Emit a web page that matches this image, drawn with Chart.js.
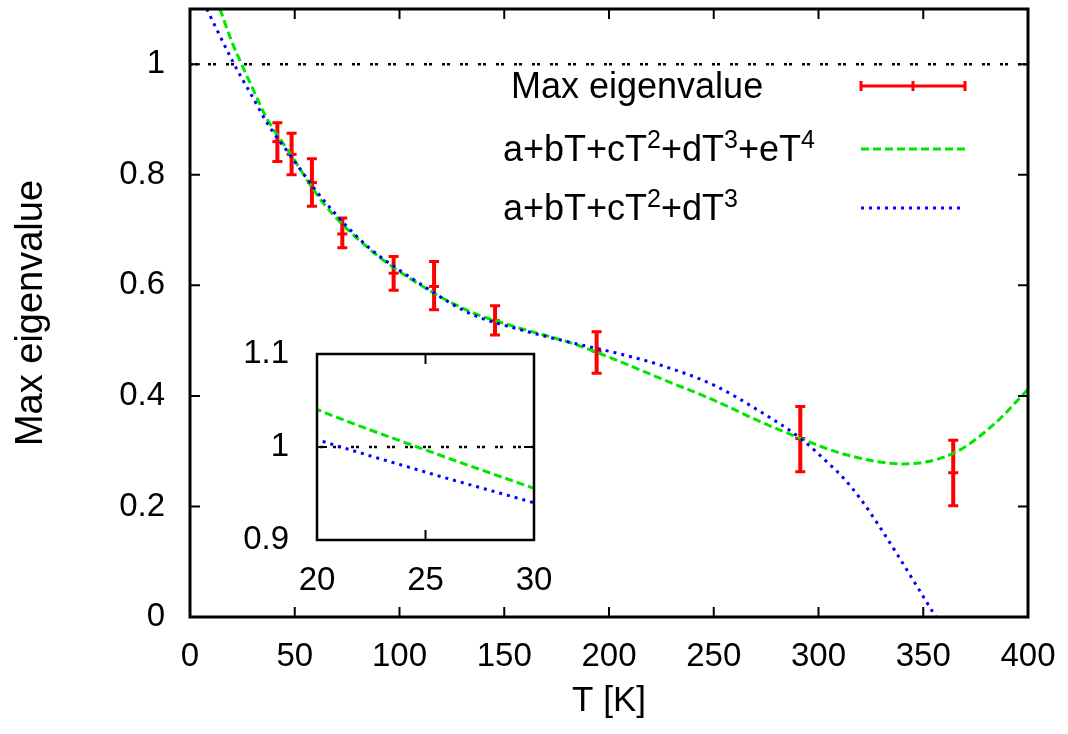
<!DOCTYPE html>
<html>
<head>
<meta charset="utf-8">
<script src="https://cdn.jsdelivr.net/npm/chart.js@4.4.0/dist/chart.umd.min.js"></script>
<style>
  html, body { margin: 0; padding: 0; background: #fff; }
  #wrap { position: relative; width: 1068px; height: 734px; }
  #main { position: absolute; left: 0; top: 0; width: 1068px; height: 734px; }
  #inset { position: absolute; left: 230px; top: 330px; width: 340px; height: 270px; }
</style>
</head>
<body>
<div id="wrap">
  <canvas id="main" width="1068" height="734"></canvas>
  <canvas id="inset" width="340" height="270"></canvas>
</div>
<script>
// tick values
const xTickValues = [0, 50, 100, 150, 200, 250, 300, 350, 400];
const yTickValues = [0, 0.2, 0.4, 0.6, 0.8, 1];
const insetXTicks = [20, 25, 30];
const insetYTicks = [0.9, 1, 1.1];

// measured points with error bars
const errT = [41.7, 48.5, 58.2, 72.7, 97.2, 116.5, 145.6, 194.1, 291.3, 364.3];
const errMid = [0.860, 0.837, 0.786, 0.693, 0.622, 0.598, 0.536, 0.481, 0.323, 0.261];
const errLow = [0.824, 0.800, 0.743, 0.668, 0.591, 0.556, 0.510, 0.441, 0.263, 0.2015];
const errHigh = [0.894, 0.875, 0.829, 0.722, 0.652, 0.643, 0.563, 0.516, 0.381, 0.320];

// fit a+bT+cT^2+dT^3+eT^4
const quarticT = [14.3, 20, 25, 30, 36.6, 47.7, 63.6, 84.3, 109.8, 133.7, 157.5, 181.4, 205.3, 224.3, 249.8, 272.2, 291.5, 311.8, 340.5, 364.3, 383.4, 400];
const quarticV = [1.1, 1.0405, 0.9968, 0.9556, 0.9026, 0.839, 0.749, 0.670, 0.601, 0.5526, 0.5225, 0.4965, 0.462, 0.432, 0.3927, 0.3535, 0.323, 0.295, 0.277, 0.296, 0.3475, 0.4118];

// fit a+bT+cT^2+dT^3
const cubicT = [8.0, 20, 25, 30, 36.6, 47.7, 63.6, 84.3, 109.8, 133.7, 157.5, 181.4, 205.3, 224.3, 249.8, 272.2, 291.5, 303.9, 311.8, 320, 329.4, 337.3, 345.3, 356];
const cubicV = [1.1, 1.008, 0.973, 0.94, 0.895, 0.836, 0.755, 0.672, 0.603, 0.549, 0.52, 0.497, 0.476, 0.456, 0.420, 0.3716, 0.323, 0.281, 0.252, 0.214, 0.162, 0.115, 0.066, 0.0];

// reference line at 1
const unityT = [0, 400];
const unityV = [1, 1];

const FONT = "'Liberation Sans', Arial, sans-serif";
const RED = "#ff0000";
const GREEN = "#00e600";
const BLUE = "#0000ff";

function pts(xs, ys) {
  return xs.map((x, i) => ({ x: x, y: ys[i] }));
}

function curveSets() {
  return [
    {
      label: "unity", data: pts(unityT, unityV), showLine: true,
      borderColor: "#000", borderWidth: 2.5, borderDash: [3, 2, 3, 10],
      pointRadius: 0, order: 3,
    },
    {
      label: "quartic", data: pts(quarticT, quarticV), showLine: true,
      borderColor: GREEN, borderWidth: 3, borderDash: [8, 4],
      pointRadius: 0, cubicInterpolationMode: "monotone", order: 1,
    },
    {
      label: "cubic", data: pts(cubicT, cubicV), showLine: true,
      borderColor: BLUE, borderWidth: 3, borderDash: [3, 5],
      pointRadius: 0, cubicInterpolationMode: "monotone", order: 0,
    },
  ];
}

function fixedTicks(values) {
  return (scale) => {
    scale.ticks = values.map((v) => ({ value: v }));
  };
}

// pin the box size and drop the label overhang padding chart.js adds
function pinSize(prop, size) {
  return (s) => {
    s[prop] = size;
    s.paddingTop = 0; s.paddingBottom = 0;
    s.paddingLeft = 0; s.paddingRight = 0;
  };
}

function framePlugin(xt, yt, tickLen, lineW) {
  return {
    id: "frame",
    afterDatasetsDraw(chart) {
      const { ctx, chartArea: a, scales: { x, y } } = chart;
      ctx.save();
      ctx.strokeStyle = "#000";
      ctx.lineWidth = 2;
      ctx.setLineDash([]);
      ctx.beginPath();
      xt.forEach((v) => {
        const px = x.getPixelForValue(v);
        ctx.moveTo(px, a.bottom); ctx.lineTo(px, a.bottom - tickLen);
        ctx.moveTo(px, a.top); ctx.lineTo(px, a.top + tickLen);
      });
      yt.forEach((v) => {
        const py = y.getPixelForValue(v);
        ctx.moveTo(a.left, py); ctx.lineTo(a.left + tickLen, py);
        ctx.moveTo(a.right, py); ctx.lineTo(a.right - tickLen, py);
      });
      ctx.stroke();
      ctx.lineWidth = lineW;
      ctx.strokeRect(a.left, a.top, a.right - a.left, a.bottom - a.top);
      ctx.restore();
    },
  };
}

const errorBarPlugin = {
  id: "errorBars",
  beforeDatasetsDraw(chart) {
    const { ctx, scales: { x, y } } = chart;
    ctx.save();
    ctx.strokeStyle = RED;
    ctx.setLineDash([]);
    errT.forEach((t, i) => {
      const px = x.getPixelForValue(t);
      const top = y.getPixelForValue(errHigh[i]);
      const bot = y.getPixelForValue(errLow[i]);
      ctx.lineWidth = 4;
      ctx.beginPath();
      ctx.moveTo(px, top); ctx.lineTo(px, bot);
      ctx.stroke();
      ctx.lineWidth = 3;
      ctx.beginPath();
      ctx.moveTo(px - 5, top); ctx.lineTo(px + 5, top);
      ctx.moveTo(px - 5, bot); ctx.lineTo(px + 5, bot);
      ctx.stroke();
    });
    ctx.restore();
  },
};

// legend rows: [text, superscript?]
const legendRows = [
  { parts: [["Max eigenvalue", false]], left: 511, base: 98, kind: "err" },
  { parts: [["a+bT+cT", false], ["2", true], ["+dT", false], ["3", true], ["+eT", false], ["4", true]], left: 503, base: 161, kind: "quartic" },
  { parts: [["a+bT+cT", false], ["2", true], ["+dT", false], ["3", true]], left: 503, base: 220, kind: "cubic" },
];

const legendPlugin = {
  id: "richLegend",
  afterDraw(chart) {
    const { ctx } = chart;
    ctx.save();
    ctx.fillStyle = "#000";
    ctx.textBaseline = "alphabetic";
    ctx.textAlign = "left";
    legendRows.forEach((row) => {
      let cx = row.left;
      row.parts.forEach(([txt, sup]) => {
        ctx.font = (sup ? "25px " : "36px ") + FONT;
        ctx.fillText(txt, cx, sup ? row.base - 13 : row.base);
        cx += ctx.measureText(txt).width;
      });
      const sy = row.base - 12;
      const x0 = 861, x1 = 965;
      ctx.beginPath();
      if (row.kind === "err") {
        ctx.strokeStyle = RED;
        ctx.lineWidth = 3;
        ctx.setLineDash([]);
        ctx.moveTo(x0, sy); ctx.lineTo(x1, sy);
        ctx.moveTo(x0, sy - 5); ctx.lineTo(x0, sy + 5);
        ctx.moveTo(x1, sy - 5); ctx.lineTo(x1, sy + 5);
        ctx.moveTo((x0 + x1) / 2, sy - 5); ctx.lineTo((x0 + x1) / 2, sy + 5);
      } else if (row.kind === "quartic") {
        ctx.strokeStyle = GREEN;
        ctx.lineWidth = 3;
        ctx.setLineDash([8, 4]);
        ctx.moveTo(x0, sy); ctx.lineTo(x1, sy);
      } else {
        ctx.strokeStyle = BLUE;
        ctx.lineWidth = 3;
        ctx.setLineDash([3, 5]);
        ctx.moveTo(x0, sy); ctx.lineTo(x1, sy);
      }
      ctx.stroke();
    });
    ctx.restore();
  },
};

const tickFont = { family: FONT, size: 33 };

const mainSets = curveSets();
mainSets.push({
  label: "Max eigenvalue", data: pts(errT, errMid), showLine: false,
  pointStyle: "line", pointRadius: 5, borderColor: RED, borderWidth: 3, order: 5,
});

new Chart(document.getElementById("main"), {
  type: "scatter",
  data: { datasets: mainSets },
  options: {
    responsive: false,
    animation: false,
    layout: { padding: { top: 9, right: 40, left: 0, bottom: 0 } },
    plugins: { legend: { display: false }, tooltip: { enabled: false } },
    scales: {
      x: {
        type: "linear", min: 0, max: 400,
        afterBuildTicks: fixedTicks(xTickValues),
        afterFit: pinSize("height", 117),
        grid: { display: false, drawTicks: false },
        border: { display: false },
        ticks: { font: tickFont, color: "#000", padding: 20, maxRotation: 0, autoSkip: false },
        title: { display: true, text: "T [K]", color: "#000", font: { family: FONT, size: 35 }, padding: { top: 0, bottom: 12 } },
      },
      y: {
        type: "linear", min: 0, max: 1.1,
        afterBuildTicks: fixedTicks(yTickValues),
        afterFit: pinSize("width", 190),
        grid: { display: false, drawTicks: false },
        border: { display: false },
        ticks: { font: tickFont, color: "#000", padding: 25, autoSkip: false, callback: (v) => String(v) },
        title: { display: true, text: "Max eigenvalue", color: "#000", font: { family: FONT, size: 38 }, padding: { top: 9, bottom: 0 } },
      },
    },
  },
  plugins: [errorBarPlugin, framePlugin(xTickValues, yTickValues, 10, 3), legendPlugin],
});

new Chart(document.getElementById("inset"), {
  type: "scatter",
  data: { datasets: curveSets() },
  options: {
    responsive: false,
    animation: false,
    layout: { padding: { top: 24, right: 36, left: 0, bottom: 0 } },
    plugins: { legend: { display: false }, tooltip: { enabled: false } },
    scales: {
      x: {
        type: "linear", min: 20, max: 30,
        afterBuildTicks: fixedTicks(insetXTicks),
        afterFit: pinSize("height", 60),
        grid: { display: false, drawTicks: false },
        border: { display: false },
        ticks: { font: tickFont, color: "#000", padding: 21, maxRotation: 0, autoSkip: false },
      },
      y: {
        type: "linear", min: 0.9, max: 1.1,
        afterBuildTicks: fixedTicks(insetYTicks),
        afterFit: pinSize("width", 87),
        grid: { display: false, drawTicks: false },
        border: { display: false },
        ticks: { font: tickFont, color: "#000", padding: 28, autoSkip: false, callback: (v) => String(v) },
      },
    },
  },
  plugins: [framePlugin([25], [1], 10, 2.5)],
});
</script>
</body>
</html>
